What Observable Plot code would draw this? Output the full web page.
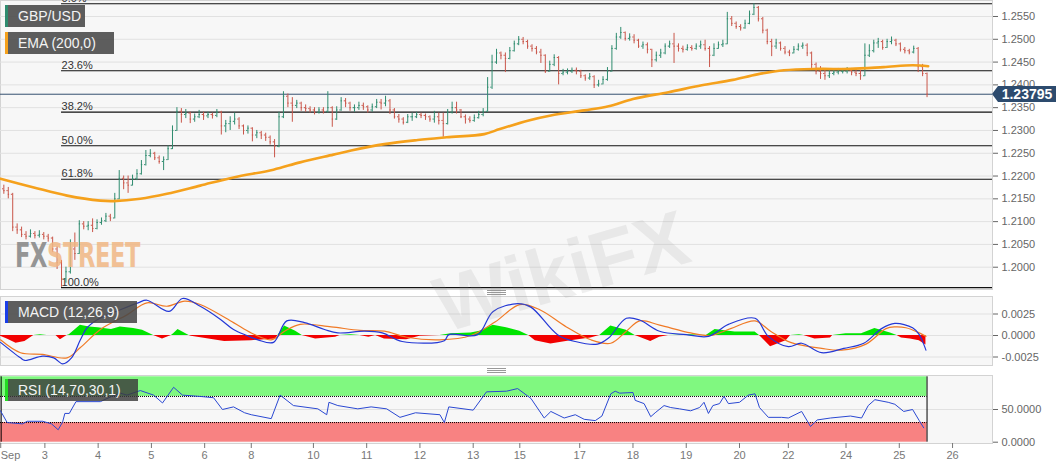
<!DOCTYPE html>
<html><head><meta charset="utf-8">
<script src="https://cdn.jsdelivr.net/npm/d3@7"></script>
<script src="https://cdn.jsdelivr.net/npm/@observablehq/plot@0.6"></script>
<style>
html,body{margin:0;padding:0;background:#fff;}
#wrap{position:relative;width:1063px;height:469px;overflow:hidden;font-family:"Liberation Sans",Arial,sans-serif;}
#wrap svg{position:absolute;left:0;}
.legend{position:absolute;left:5px;height:22px;background:rgba(72,72,72,0.88);color:#f4f4f4;font-size:14px;line-height:22px;padding-left:13px;box-sizing:border-box;white-space:nowrap;}
.legend i{position:absolute;left:0;top:0;width:2.5px;height:100%;}
.handle{position:absolute;left:487px;width:19px;height:5px;border-top:1px solid #999;border-bottom:1px solid #999;box-sizing:border-box;}
.handle::after{content:"";position:absolute;left:0;right:0;top:1px;border-top:1px solid #999;}
.wm{position:absolute;pointer-events:none;white-space:nowrap;}
</style></head>
<body>
<div id="wrap"></div>
<script>
// ---------------- DATA ----------------
// 2-hour OHLC bars (open = previous close), x in trading hours from chart start
const firstOpen = 1.2172;
const barClose = [1.2168,1.2160,1.2088,1.2082,1.2072,1.2068,1.2074,1.2070,1.2072,1.2068,1.2064,1.2040,1.2010,1.1975,1.1990,1.2040,1.2030,1.2095,1.2090,1.2092,
1.2085,1.2098,1.2102,1.2112,1.2108,1.2150,1.2195,1.2185,1.2180,1.2195,1.2205,1.2225,1.2245,1.2250,1.2240,1.2232,1.2236,1.2260,1.2300,1.2342,
1.2335,1.2338,1.2325,1.2330,1.2335,1.2332,1.2335,1.2333,1.2340,1.2310,1.2315,1.2320,1.2325,1.2310,1.2300,1.2305,1.2290,1.2295,1.2290,1.2285,
1.2275,1.2265,1.2330,1.2375,1.2360,1.2355,1.2360,1.2350,1.2348,1.2345,1.2340,1.2345,1.2342,1.2350,1.2325,1.2345,1.2365,1.2360,1.2350,1.2350,
1.2355,1.2352,1.2345,1.2352,1.2362,1.2360,1.2365,1.2345,1.2330,1.2325,1.2318,1.2330,1.2330,1.2335,1.2333,1.2330,1.2325,1.2330,1.2322,1.2315,
1.2340,1.2350,1.2345,1.2330,1.2325,1.2322,1.2328,1.2335,1.2342,1.2395,1.2450,1.2470,1.2465,1.2458,1.2475,1.2490,1.2500,1.2495,1.2485,1.2480,
1.2472,1.2465,1.2430,1.2445,1.2460,1.2425,1.2428,1.2430,1.2432,1.2430,1.2420,1.2415,1.2418,1.2400,1.2402,1.2412,1.2430,1.2480,1.2505,1.2515,
1.2502,1.2505,1.2498,1.2485,1.2488,1.2478,1.2455,1.2465,1.2470,1.2485,1.2490,1.2485,1.2480,1.2478,1.2482,1.2480,1.2485,1.2488,1.2480,1.2465,
1.2480,1.2488,1.2490,1.2545,1.2535,1.2528,1.2525,1.2535,1.2555,1.2570,1.2545,1.2520,1.2495,1.2485,1.2492,1.2480,1.2472,1.2470,1.2478,1.2485,
1.2487,1.2470,1.2445,1.2430,1.2425,1.2420,1.2425,1.2428,1.2430,1.2430,1.2432,1.2428,1.2425,1.2420,1.2465,1.2475,1.2492,1.2495,1.2482,1.2495,
1.2498,1.2490,1.2478,1.2475,1.2472,1.2480,1.2440,1.2425,1.23795];
const barHigh = [1.2180,1.2175,1.2162,1.2095,1.2088,1.2078,1.2082,1.2078,1.2080,1.2076,1.2072,1.2066,1.2045,1.2015,1.2000,1.2060,1.2075,1.2102,1.2100,1.2100,
1.2106,1.2104,1.2108,1.2118,1.2116,1.2162,1.2212,1.2200,1.2200,1.2202,1.2214,1.2234,1.2256,1.2258,1.2252,1.2244,1.2242,1.2266,1.2310,1.2350,
1.2348,1.2346,1.2340,1.2336,1.2344,1.2340,1.2340,1.2338,1.2346,1.2342,1.2322,1.2330,1.2338,1.2328,1.2312,1.2310,1.2306,1.2300,1.2298,1.2294,
1.2288,1.2280,1.2340,1.2385,1.2380,1.2372,1.2366,1.2362,1.2356,1.2352,1.2350,1.2350,1.2350,1.2385,1.2352,1.2352,1.2372,1.2370,1.2362,1.2356,
1.2362,1.2360,1.2354,1.2358,1.2368,1.2368,1.2375,1.2368,1.2348,1.2335,1.2328,1.2335,1.2338,1.2340,1.2338,1.2336,1.2332,1.2342,1.2338,1.2338,
1.2346,1.2362,1.2362,1.2346,1.2334,1.2330,1.2334,1.2342,1.2348,1.2416,1.2465,1.2478,1.2472,1.2470,1.2482,1.2496,1.2506,1.2504,1.2498,1.2488,
1.2484,1.2478,1.2466,1.2452,1.2466,1.2462,1.2434,1.2435,1.2437,1.2437,1.2432,1.2422,1.2425,1.2420,1.2410,1.2418,1.2438,1.2486,1.2513,1.2526,
1.2516,1.2512,1.2510,1.2500,1.2494,1.2492,1.2478,1.2472,1.2478,1.2490,1.2496,1.2513,1.2490,1.2485,1.2488,1.2486,1.2490,1.2496,1.2498,1.2484,
1.2490,1.2494,1.2498,1.2559,1.2550,1.2538,1.2532,1.2542,1.2562,1.2578,1.2572,1.2548,1.2522,1.2500,1.2500,1.2494,1.2484,1.2476,1.2484,1.2490,
1.2492,1.2490,1.2472,1.2448,1.2440,1.2434,1.2432,1.2434,1.2436,1.2436,1.2438,1.2436,1.2434,1.2432,1.2490,1.2488,1.2498,1.2502,1.2498,1.2500,
1.2505,1.2500,1.2492,1.2482,1.2478,1.2485,1.2482,1.2445,1.2426];
const barLow = [1.2160,1.2150,1.2078,1.2072,1.2065,1.2060,1.2064,1.2062,1.2064,1.2060,1.2055,1.2032,1.1995,1.1956,1.1965,1.1985,1.2015,1.2028,1.2082,1.2080,
1.2076,1.2082,1.2092,1.2098,1.2100,1.2106,1.2148,1.2170,1.2162,1.2178,1.2190,1.2202,1.2222,1.2240,1.2234,1.2226,1.2212,1.2234,1.2258,1.2298,
1.2316,1.2326,1.2315,1.2318,1.2326,1.2322,1.2326,1.2325,1.2328,1.2290,1.2295,1.2300,1.2312,1.2302,1.2290,1.2292,1.2275,1.2282,1.2280,1.2276,
1.2268,1.2240,1.2262,1.2326,1.2350,1.2318,1.2348,1.2342,1.2340,1.2338,1.2334,1.2336,1.2336,1.2338,1.2307,1.2322,1.2342,1.2350,1.2342,1.2340,
1.2344,1.2344,1.2338,1.2340,1.2348,1.2345,1.2352,1.2335,1.2325,1.2316,1.2312,1.2315,1.2320,1.2326,1.2326,1.2322,1.2318,1.2316,1.2312,1.2285,
1.2312,1.2336,1.2336,1.2326,1.2314,1.2316,1.2318,1.2325,1.2330,1.2340,1.2390,1.2445,1.2455,1.2427,1.2455,1.2472,1.2486,1.2488,1.2478,1.2472,
1.2466,1.2447,1.2425,1.2428,1.2440,1.2400,1.2420,1.2422,1.2425,1.2422,1.2414,1.2408,1.2410,1.2392,1.2395,1.2400,1.2408,1.2428,1.2476,1.2500,
1.2496,1.2496,1.2490,1.2480,1.2478,1.2468,1.2438,1.2450,1.2458,1.2466,1.2480,1.2447,1.2472,1.2470,1.2474,1.2474,1.2476,1.2478,1.2474,1.2438,
1.2462,1.2478,1.2482,1.2488,1.2528,1.2522,1.2518,1.2522,1.2532,1.2552,1.2538,1.2512,1.2488,1.2462,1.2478,1.2474,1.2466,1.2462,1.2468,1.2474,
1.2478,1.2462,1.2436,1.2422,1.2412,1.2410,1.2414,1.2420,1.2422,1.2424,1.2424,1.2420,1.2418,1.2410,1.2418,1.2460,1.2470,1.2480,1.2476,1.2480,
1.2488,1.2484,1.2472,1.2468,1.2466,1.2468,1.2427,1.2418,1.2372];
const lastPrice = 1.23795;

// 200 EMA
const emaHours = [0,15,30,45,51,63,75,90,105,123,135,150,158,173,188,201,218,225,238,248,263,274,285,301,316,330,341,353,368,383,398,411,418];
const emaValues = [1.2194,1.2175,1.2157,1.2146,1.2145,1.2150,1.2161,1.2179,1.2197,1.2214,1.2230,1.2247,1.2256,1.2270,1.2279,1.2285,1.2292,1.2303,1.2322,1.2333,1.2344,1.2353,1.2369,1.2384,1.2399,1.2411,1.2423,1.2432,1.2435,1.2435,1.2439,1.2443,1.2441];

// Fibonacci retracement (swing low at hour 27.5, swing high 1.2578)
const fibHigh = 1.2578, fibLow = 1.1955, fibStartHour = 27.5;
const fibRatios = [0, 0.236, 0.382, 0.5, 0.618, 1];
const fibLabels = ["0.0%","23.6%","38.2%","50.0%","61.8%","100.0%"];

// MACD (12,26,9)
const macdHours = [0,9,11,19,24,28,32,36,39,44,54,62,66,76,82,90,99,105,111,116,123,129,137,146,152,164,172,181,200,202,215,222,233,239,251,259,269,274,282,288,297,309,319,328,340,346,355,361,370,380,389,397,403,411,414,417];
const macdValues = [-0.0008,-0.0026,-0.0029,-0.0024,-0.0026,-0.0033,-0.0026,-0.0005,0.0009,0.0019,0.0030,0.0038,0.0041,0.0028,0.0043,0.0034,0.0019,0.0007,0.0000,-0.0005,-0.0008,0.0017,0.0015,0.0007,0.0003,0.0005,0.0003,-0.0007,-0.0006,0.0001,0.0001,0.0028,0.0037,0.0033,0.0001,-0.0007,-0.0010,-0.0003,0.0020,0.0018,0.0005,0.0001,-0.0001,0.0013,0.0020,-0.0001,-0.0013,-0.0009,-0.0020,-0.0015,-0.0009,0.0008,0.0014,0.0009,0.0001,-0.0017];
const signalHours = [0,9,19,30,36,45,57,66,75,83,90,105,113,122,128,135,149,162,173,183,198,212,223,234,243,255,266,275,282,288,297,311,320,329,340,347,356,370,379,390,399,403,408,414,417];
const signalValues = [-0.0005,-0.0020,-0.0022,-0.0026,-0.0014,0.0007,0.0024,0.0038,0.0034,0.0040,0.0036,0.0015,0.0003,-0.0005,0.0005,0.0013,0.0010,0.0006,0.0005,-0.0002,-0.0005,0.0000,0.0016,0.0036,0.0030,0.0010,-0.0005,-0.0009,0.0005,0.0017,0.0012,0.0003,0.0000,0.0008,0.0017,0.0005,-0.0008,-0.0015,-0.0017,-0.0010,0.0008,0.0010,0.0009,0.0003,-0.0001];
const histHours = [0,3,7,11,15,18,21,25,27,30,31,36,40,44,50,54,60,64,69,71,73,77,78,80,85,86,101,113,124,125,128,133,136,142,151,153,158,162,166,169,173,183,189,198,203,212,216,222,228,234,238,241,248,257,266,270,275,282,286,293,297,301,311,318,322,331,340,342,347,354,356,360,362,367,374,375,381,388,394,401,404,406,410,414,417];
const histValues = [-0.0001,-0.0004,-0.0009,-0.0007,0,0.0001,0,0,-0.0005,0,0.0001,0.0012,0.0010,0.0009,0.0007,0.0010,0.0008,0.0006,0,-0.0002,-0.0004,0,0.0002,0.0007,0,-0.0001,-0.0007,-0.0006,-0.0004,0,0.0011,0.0005,0,-0.0004,-0.0002,0,0.0001,0,-0.0002,0,-0.0004,-0.0005,-0.0001,0,0.0002,0.0003,0.0005,0.0012,0.0009,0.0005,0,-0.0006,-0.0010,-0.0006,-0.0003,0,0.0011,0.0006,0,-0.0007,-0.0002,0,0.0001,0,0.0007,0.0004,0.0004,0,-0.0013,-0.0006,0,0.0001,0,-0.0004,-0.0003,0,0.0002,0.0002,0.0008,0.0003,0,-0.0003,-0.0004,-0.0006,-0.0011];

// RSI (14,70,30,1)
const rsiHours = [0,3,10,12,19,23,26,28,29,31,34,45,50,54,57,63,69,73,78,82,90,96,100,105,110,113,122,126,132,143,147,148,152,161,167,174,180,187,198,200,202,213,219,228,233,239,245,248,254,259,263,268,271,275,277,279,285,286,290,293,295,299,302,306,311,315,317,319,321,324,326,328,333,337,340,342,346,352,355,361,365,368,374,383,388,391,394,400,403,407,411,414,416];
const rsiValues = [48,30,28,32,32,28,19,31,44,44,62,62,70,75,72,79,72,60,84,72,70,68,50,54,45,42,36,72,56,51,42,61,56,51,54,51,38,45,42,30,54,49,77,78,82,67,37,47,37,42,35,33,40,74,78,75,76,64,59,39,45,56,53,51,48,53,61,44,56,59,70,59,61,72,74,53,38,38,37,47,24,34,37,40,37,56,65,61,58,47,50,33,22];
const rsiUpper = 70, rsiLower = 30;

// axes
const priceTicks = [1.2000,1.2050,1.2100,1.2150,1.2200,1.2250,1.2300,1.2350,1.2400,1.2450,1.2500,1.2550];
const macdTicks = [-0.0025, 0, 0.0025];
const rsiTicks = [0, 50];
const dayTickHours = [1,20,44,68,92,113,141,165,189,213,234,261,285,309,333,355,381,405,429];
const dayTickLabels = ["Sep","3","4","5","6","8","10","11","12","13","15","17","18","19","20","22","24","25","26"];

// ---------------- CHART ----------------
const W = 1063, XD = [0, 447];
const FONT = "Liberation Sans, Arial, sans-serif";
const UP = "#2f8c6f", DOWN = "#c9564a";
const baseStyle = {background: "transparent", fontFamily: FONT, fontSize: "11px", overflow: "visible"};
const fmt4 = d => d.toFixed(4);

const bars = barClose.map((c, i) => ({h: 2 * i + 1.5, o: i === 0 ? firstOpen : barClose[i - 1], c, hi: barHigh[i], lo: barLow[i]}));
const barColor = d => d.c >= d.o ? UP : DOWN;
const ema = emaHours.map((h, i) => ({h, v: emaValues[i]}));
const fib = fibRatios.map((r, i) => ({v: fibHigh - r * (fibHigh - fibLow), label: fibLabels[i]}));
const lastHour = bars[bars.length - 1].h;

const main = Plot.plot({
  width: W, height: 290, marginLeft: 0, marginRight: 71, marginTop: 0, marginBottom: 1,
  style: baseStyle,
  x: {domain: XD, axis: null, label: null},
  y: {domain: [1.19511, 1.25851], label: null},
  marks: [
    Plot.frame({fill: "#f7f7f7", stroke: "#d3d3d3"}),
    Plot.ruleY(priceTicks, {stroke: "#e1e1e1"}),
    Plot.axisY(priceTicks, {anchor: "right", tickSize: 5, tickPadding: 4, fontSize: 11, tickFormat: fmt4, color: "#666", label: null}),
    Plot.ruleY(fib, {y: "v", x1: fibStartHour, x2: XD[1], stroke: "#111", strokeWidth: 1.2}),
    Plot.text(fib, {x: fibStartHour, y: "v", text: "label", textAnchor: "start", lineAnchor: "bottom", dy: -2, fontSize: 11, fill: "#333"}),
    Plot.ruleY([lastPrice], {stroke: "#34506f", strokeWidth: 1}),
    Plot.ruleX(bars, {x: "h", y1: "lo", y2: "hi", stroke: barColor, strokeWidth: 1}),
    Plot.ruleY(bars, {y: "o", x1: d => d.h - 0.6, x2: "h", stroke: barColor, strokeWidth: 1}),
    Plot.ruleY(bars, {y: "c", x1: "h", x2: d => d.h + 0.6, stroke: barColor, strokeWidth: 1}),
    Plot.line(ema, {x: "h", y: "v", stroke: "#f5a11c", strokeWidth: 2.6, curve: "catmull-rom"})
  ]
});
main.style.top = "0px";

const macdData = macdHours.map((h, i) => ({h, v: macdValues[i]}));
const sigData = signalHours.map((h, i) => ({h, v: signalValues[i]}));
const histData = histHours.map((h, i) => ({h, v: histValues[i]}));
const macd = Plot.plot({
  width: W, height: 70, marginLeft: 0, marginRight: 71, marginTop: 0, marginBottom: 1,
  style: baseStyle,
  x: {domain: XD, axis: null, label: null},
  y: {domain: [-0.003488, 0.004535], label: null},
  marks: [
    Plot.frame({fill: "#f7f7f7", stroke: "#d3d3d3"}),
    Plot.ruleY(macdTicks, {stroke: "#e1e1e1"}),
    Plot.axisY(macdTicks, {anchor: "right", tickSize: 5, tickPadding: 4, fontSize: 11, tickFormat: fmt4, color: "#666", label: null}),
    Plot.areaY(histData, {x: "h", y1: 0, y2: d => Math.max(0, d.v), fill: "#00e400"}),
    Plot.areaY(histData, {x: "h", y1: 0, y2: d => Math.min(0, d.v), fill: "#f20000"}),
    Plot.line(sigData, {x: "h", y: "v", stroke: "#f07a26", strokeWidth: 1.2, curve: "catmull-rom"}),
    Plot.line(macdData, {x: "h", y: "v", stroke: "#2438d6", strokeWidth: 1.2, curve: "catmull-rom"})
  ]
});
macd.style.top = "296px";

const rsiData = rsiHours.map((h, i) => ({h, v: rsiValues[i]}));
const labelOf = new Map(dayTickHours.map((h, i) => [h, dayTickLabels[i]]));
const rsi = Plot.plot({
  width: W, height: 95, marginLeft: 0, marginRight: 71, marginTop: 1, marginBottom: 26,
  style: baseStyle,
  x: {domain: XD, label: null},
  y: {domain: [-2, 102], label: null},
  marks: [
    Plot.frame({fill: "#f7f7f7", stroke: "#d3d3d3"}),
    Plot.ruleY([50], {stroke: "#e1e1e1"}),
    Plot.rect([{x1: 0, x2: lastHour, y1: rsiUpper, y2: 100}], {x1: "x1", x2: "x2", y1: "y1", y2: "y2", fill: "#80f880"}),
    Plot.rect([{x1: 0, x2: lastHour, y1: 0, y2: rsiLower}], {x1: "x1", x2: "x2", y1: "y1", y2: "y2", fill: "#f88282"}),
    Plot.ruleY([rsiUpper, rsiLower], {x1: 0, x2: lastHour, stroke: "#000", strokeDasharray: "1,1"}),
    Plot.ruleX([0.3, lastHour], {y1: 0, y2: 100, stroke: "#000"}),
    Plot.line(rsiData, {x: "h", y: "v", stroke: "#2a48d2", strokeWidth: 1}),
    Plot.axisY(rsiTicks, {anchor: "right", tickSize: 5, tickPadding: 4, fontSize: 11, tickFormat: fmt4, color: "#666", label: null}),
    Plot.axisX(dayTickHours.slice(1), {anchor: "bottom", tickSize: 5, tickPadding: 3, fontSize: 11, tickFormat: d => labelOf.get(d), color: "#777", label: null}),
    Plot.axisX(dayTickHours.slice(0, 1), {anchor: "bottom", tickSize: 5, tickPadding: 3, fontSize: 11, tickFormat: d => labelOf.get(d), textAnchor: "start", dx: -2, color: "#777", label: null})
  ]
});
rsi.style.top = "374px";

const wrap = document.getElementById("wrap");

// watermarks
const wm1 = document.createElement("div");
wm1.className = "wm";
wm1.style.cssText = "left:432px;top:226px;font:bold 78px 'Liberation Sans',Arial,sans-serif;color:rgba(150,150,150,0.15);transform:rotate(-16deg);transform-origin:50% 50%;z-index:5;";
wm1.textContent = "WikiFX";
const wm2 = document.createElement("div");
wm2.className = "wm";
wm2.style.cssText = "left:15px;top:236px;font:bold 33px 'Liberation Sans Narrow','DejaVu Sans Condensed',sans-serif;transform:scaleX(0.76);transform-origin:0 0;letter-spacing:-0.5px;z-index:5;opacity:0.85;";
wm2.innerHTML = '<span style="color:#858585">FX</span><span style="color:#f0b784">STREET</span>';

wrap.append(main, macd, rsi, wm1, wm2);

// legends
function legend(text, top, width, color, bg) {
  const d = document.createElement("div");
  d.className = "legend";
  d.style.top = top + "px";
  d.style.width = width + "px";
  if (bg) d.style.background = bg;
  d.innerHTML = '<i style="background:' + color + '"></i>' + text;
  d.style.zIndex = 6;
  wrap.append(d);
}
legend("GBP/USD", 5, 80, "#2e8b6e");
legend("EMA (200,0)", 32, 109, "#f5a11c");
legend("MACD (12,26,9)", 301, 132, "#1a3ee8");
legend("RSI (14,70,30,1)", 379, 133, "#22dd22", "rgba(58,58,58,0.82)");

// handles between panes
for (const t of [290, 368]) {
  const h = document.createElement("div");
  h.className = "handle";
  h.style.top = t + "px";
  wrap.append(h);
}

// current price tag, placed with the main y scale
const py = main.scale("y").apply(lastPrice);
const tag = document.createElement("div");
tag.style.cssText = "position:absolute;left:998px;width:58px;height:16px;background:#2d4b6e;color:#fff;font:bold 14px 'Liberation Sans',Arial,sans-serif;line-height:16px;text-align:center;z-index:7;";
tag.style.top = (py - 8) + "px";
tag.textContent = lastPrice.toFixed(5);
const arrow = document.createElement("div");
arrow.style.cssText = "position:absolute;left:992px;width:0;height:0;border-top:8px solid transparent;border-bottom:8px solid transparent;border-right:6px solid #2d4b6e;z-index:7;";
arrow.style.top = (py - 8) + "px";
wrap.append(tag, arrow);
</script>
</body></html>
